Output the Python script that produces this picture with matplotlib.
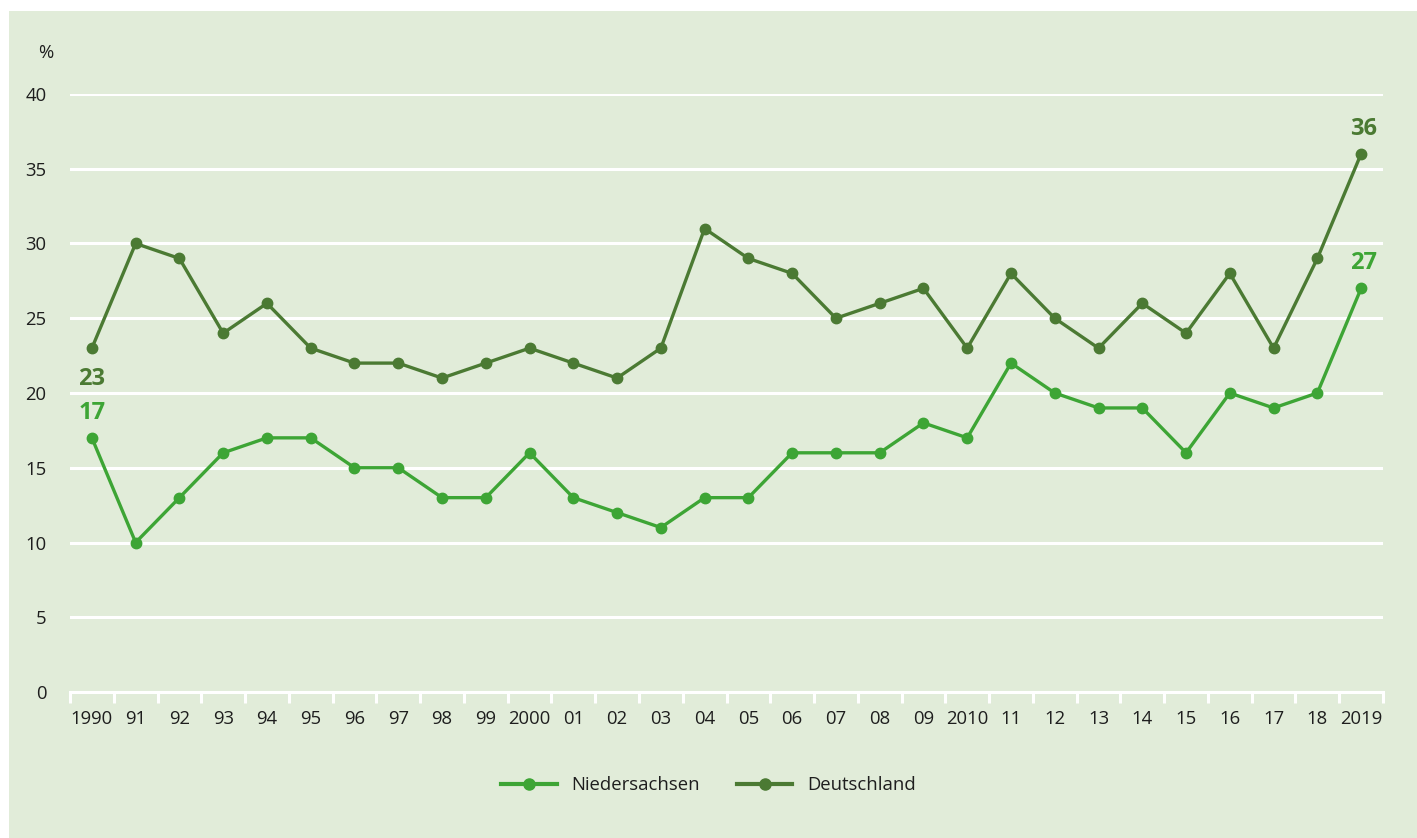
import matplotlib
matplotlib.use("Agg")
import matplotlib.pyplot as plt
from matplotlib.patches import Rectangle
from matplotlib.lines import Line2D

plt.rcParams['font.family'] = ['Open Sans', 'DejaVu Sans']

years = ["1990", "91", "92", "93", "94", "95", "96", "97", "98", "99", "2000",
         "01", "02", "03", "04", "05", "06", "07", "08", "09", "2010",
         "11", "12", "13", "14", "15", "16", "17", "18", "2019"]
niedersachsen = [17, 10, 13, 16, 17, 17, 15, 15, 13, 13, 16,
                 13, 12, 11, 13, 13, 16, 16, 16, 18, 17,
                 22, 20, 19, 19, 16, 20, 19, 20, 27]
deutschland = [23, 30, 29, 24, 26, 23, 22, 22, 21, 22, 23,
               22, 21, 23, 31, 29, 28, 25, 26, 27, 23,
               28, 25, 23, 26, 24, 28, 23, 29, 36]
y_ticks = [0, 5, 10, 15, 20, 25, 30, 35, 40]

BG = "#e1ecd9"
C_NDS = "#3da535"
C_DE = "#4b7a33"
TXT = "#1e1e1e"
FS = 13.3

W, H = 1417, 838
fig = plt.figure(figsize=(W / 100, H / 100), dpi=100)
fig.patch.set_facecolor("white")
fig.add_artist(Rectangle((9 / W, 0), 1 - 9 / W, 1 - 11 / H,
                         transform=fig.transFigure, facecolor=BG,
                         edgecolor="none", zorder=0))

left, right = 70 / W, 1383 / W
bottom, top = 1 - 692 / H, 1 - 94 / H
ax = fig.add_axes([left, bottom, right - left, top - bottom])
ax.set_facecolor("none")

x = list(range(len(years)))
ax.set_xlim(-0.5, len(years) - 0.5)
ax.set_ylim(0, 40)

for t in y_ticks[1:]:
    ax.axhline(t, color="white", lw=2.2, zorder=1)

ax.plot(x, niedersachsen, color=C_NDS, lw=2.4, marker="o", ms=7.5,
        zorder=3, clip_on=False)
ax.plot(x, deutschland, color=C_DE, lw=2.4, marker="o", ms=7.5,
        zorder=3, clip_on=False)

for s in ["top", "right", "left"]:
    ax.spines[s].set_visible(False)
ax.spines["bottom"].set_color("white")
ax.spines["bottom"].set_linewidth(2.2)

ax.set_yticks(y_ticks)
ax.set_yticklabels([str(v) for v in y_ticks], fontsize=FS, color=TXT)
ax.tick_params(axis="y", length=0, pad=17)

# tick marks sit between the years, labels at the year centres
ax.set_xticks([i - 0.5 for i in range(len(years) + 1)], minor=False)
ax.set_xticklabels([])
ax.tick_params(axis="x", which="major", direction="out", length=8,
               width=2.2, color="white")
ax.set_xticks(x, minor=True)
ax.set_xticklabels(years, minor=True, fontsize=FS, color=TXT)
ax.tick_params(axis="x", which="minor", length=0, pad=13)

# unit label above the y tick labels
fig.text(53 / W, 1 - 53 / H, "%", fontsize=FS, color=TXT,
         ha="right", va="center")

lab_kw = dict(fontsize=17, fontweight="bold", ha="center", va="center",
              annotation_clip=False)
ax.annotate(str(deutschland[0]), (x[0], deutschland[0]), xytext=(0, -22),
            textcoords="offset points", color=C_DE, **lab_kw)
ax.annotate(str(niedersachsen[0]), (x[0], niedersachsen[0]), xytext=(0, 18),
            textcoords="offset points", color=C_NDS, **lab_kw)
ax.annotate(str(deutschland[-1]), (x[-1], deutschland[-1]), xytext=(2, 18),
            textcoords="offset points", color=C_DE, **lab_kw)
ax.annotate(str(niedersachsen[-1]), (x[-1], niedersachsen[-1]), xytext=(2, 18),
            textcoords="offset points", color=C_NDS, **lab_kw)

handles = [Line2D([], [], color=C_NDS, lw=3, marker="o", ms=8),
           Line2D([], [], color=C_DE, lw=3, marker="o", ms=8)]
fig.legend(handles, ["Niedersachsen", "Deutschland"], loc="center",
           bbox_to_anchor=(0.5, 1 - 785 / H), ncol=2, frameon=False,
           fontsize=FS, handlelength=3.0, columnspacing=2.0,
           handletextpad=0.8, labelcolor=TXT)

fig.savefig("out.png", dpi=100, facecolor=fig.get_facecolor())
